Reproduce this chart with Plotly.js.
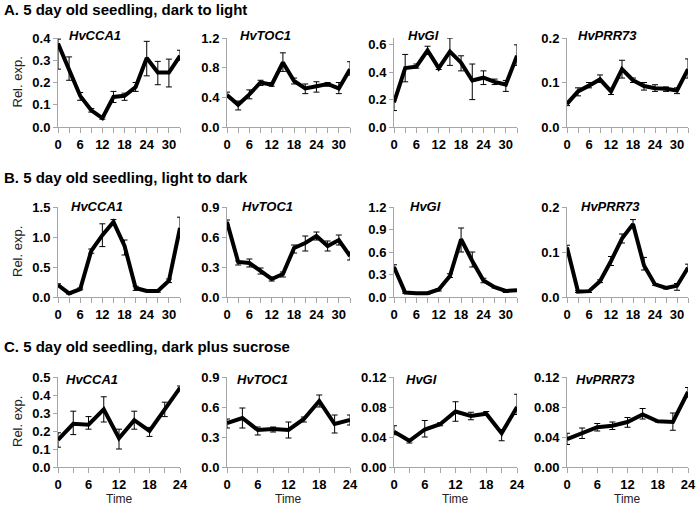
<!DOCTYPE html>
<html><head><meta charset="utf-8">
<script src="https://cdn.plot.ly/plotly-3.0.1.min.js"></script>
<style>html,body{margin:0;padding:0;background:#fff}#chart{width:696px;height:505px}</style>
</head><body><div id="chart"></div>
<script>
// Time points (h)
const timeAB = [0,3,6,9,12,15,18,21,24,27,30,33];
const timeC = [0,3,6,9,12,15,18,21,24];
const genes = ['HvCCA1','HvTOC1','HvGI','HvPRR73'];
const rowTitles = ['A. 5 day old seedling, dark to light','B. 5 day old seedling, light to dark','C. 5 day old seedling, dark plus sucrose'];

// Row A: dark to light
const A_CCA1 = [0.375,0.26,0.14,0.075,0.04,0.135,0.14,0.18,0.31,0.245,0.245,0.32];
const A_CCA1_up = [0.02,0.055,0.015,0.008,0.005,0.025,0.012,0.02,0.075,0.05,0.06,0.025];
const A_CCA1_dn = [0.115,0.05,0.02,0.008,0.005,0.025,0.02,0.02,0.08,0.055,0.065,0.02];
const A_TOC1 = [0.43,0.3,0.44,0.6,0.57,0.87,0.62,0.52,0.55,0.58,0.52,0.78];
const A_TOC1_up = [0.04,0.05,0.06,0.03,0.03,0.13,0.04,0.06,0.06,0.02,0.08,0.1];
const A_TOC1_dn = [0.03,0.07,0.06,0.04,0.02,0.12,0.04,0.07,0.08,0.03,0.07,0.08];
const A_GI = [0.18,0.43,0.44,0.56,0.43,0.55,0.47,0.34,0.36,0.33,0.31,0.52];
const A_GI_up = [0.04,0.1,0.02,0.03,0.01,0.1,0.05,0.12,0.05,0.02,0.03,0.08];
const A_GI_dn = [0.06,0.1,0.01,0.03,0.01,0.1,0.06,0.14,0.05,0.02,0.05,0.07];
const A_PRR73 = [0.052,0.08,0.093,0.107,0.08,0.13,0.105,0.092,0.087,0.086,0.082,0.13];
const A_PRR73_up = [0.006,0.008,0.007,0.01,0.007,0.02,0.005,0.008,0.008,0.004,0.006,0.023];
const A_PRR73_dn = [0.004,0.01,0.005,0.007,0.007,0.02,0.005,0.009,0.007,0.006,0.007,0.02];

// Row B: light to dark
const B_CCA1 = [0.2,0.06,0.13,0.77,1.03,1.25,0.85,0.15,0.1,0.1,0.27,1.15];
const B_CCA1_up = [0.02,0.01,0.02,0.03,0.19,0.04,0.1,0.03,0.01,0.02,0.03,0.18];
const B_CCA1_dn = [0.02,0.01,0.01,0.04,0.19,0.04,0.15,0.04,0.01,0.02,0.03,0.1];
const B_TOC1 = [0.75,0.35,0.34,0.26,0.18,0.23,0.49,0.54,0.61,0.51,0.57,0.41];
const B_TOC1_up = [0.02,0.01,0.04,0.03,0.02,0.02,0.03,0.07,0.04,0.05,0.05,0.04];
const B_TOC1_dn = [0.03,0.03,0.04,0.03,0.02,0.03,0.05,0.08,0.04,0.05,0.05,0.04];
const B_GI = [0.4,0.06,0.05,0.05,0.1,0.28,0.77,0.48,0.22,0.13,0.08,0.09];
const B_GI_up = [0.03,0.01,0.01,0.01,0.01,0.03,0.15,0.12,0.03,0.01,0.01,0.01];
const B_GI_dn = [0.03,0.01,0.01,0.01,0.02,0.02,0.17,0.08,0.03,0.01,0.02,0.01];
const B_PRR73 = [0.11,0.012,0.013,0.035,0.08,0.13,0.162,0.07,0.028,0.02,0.025,0.065];
const B_PRR73_up = [0.005,0.002,0.002,0.003,0.01,0.01,0.01,0.018,0.002,0.002,0.005,0.008];
const B_PRR73_dn = [0.01,0.002,0.003,0.003,0.01,0.01,0.007,0.01,0.002,0.002,0.01,0.005];

// Row C: dark plus sucrose
const C_CCA1 = [0.15,0.24,0.235,0.32,0.16,0.26,0.2,0.32,0.44];
const C_CCA1_up = [0.04,0.07,0.045,0.07,0.05,0.05,0.02,0.04,0.01];
const C_CCA1_dn = [0.04,0.06,0.025,0.07,0.06,0.05,0.03,0.04,0.01];
const C_TOC1 = [0.44,0.49,0.37,0.38,0.37,0.48,0.66,0.43,0.47];
const C_TOC1_up = [0.04,0.1,0.03,0.02,0.08,0.02,0.06,0.09,0.05];
const C_TOC1_dn = [0.05,0.1,0.05,0.03,0.08,0.03,0.06,0.09,0.05];
const C_GI = [0.047,0.035,0.05,0.057,0.074,0.068,0.071,0.045,0.08];
const C_GI_up = [0.008,0.002,0.012,0.002,0.013,0.005,0.003,0.005,0.017];
const C_GI_dn = [0.004,0.003,0.01,0.002,0.013,0.005,0.002,0.01,0.01];
const C_PRR73 = [0.037,0.045,0.053,0.055,0.06,0.07,0.061,0.06,0.1];
const C_PRR73_up = [0.008,0.007,0.005,0.005,0.006,0.008,0.001,0.012,0.006];
const C_PRR73_dn = [0.007,0.007,0.005,0.005,0.007,0.006,0.001,0.011,0.007];

// Axis settings per panel
const yRanges = [[0.4,1.2,0.65,0.2],[1.5,0.9,1.2,0.2],[0.5,0.9,0.12,0.12]];
const yDticks = [[0.1,0.4,0.2,0.1],[0.5,0.3,0.3,0.1],[0.1,0.3,0.04,0.04]];
const yFormats = [['.1f','.1f','.1f','.1f'],['.1f','.1f','.1f','.1f'],['.1f','.1f','.2f','.2f']];

const rows = [
  {t: timeAB, s: [[A_CCA1,A_CCA1_up,A_CCA1_dn],[A_TOC1,A_TOC1_up,A_TOC1_dn],[A_GI,A_GI_up,A_GI_dn],[A_PRR73,A_PRR73_up,A_PRR73_dn]]},
  {t: timeAB, s: [[B_CCA1,B_CCA1_up,B_CCA1_dn],[B_TOC1,B_TOC1_up,B_TOC1_dn],[B_GI,B_GI_up,B_GI_dn],[B_PRR73,B_PRR73_up,B_PRR73_dn]]},
  {t: timeC, s: [[C_CCA1,C_CCA1_up,C_CCA1_dn],[C_TOC1,C_TOC1_up,C_TOC1_dn],[C_GI,C_GI_up,C_GI_dn],[C_PRR73,C_PRR73_up,C_PRR73_dn]]}
];

const W = 696, H = 505;
const colPx = [[58,180],[227,350],[394,517],[567,688]];
const rowPx = [[38,127],[207,297],[377,467]];
const labelX = [[95,265,423,607],[97,267,426,610],[92,262,421,605]];
const labelY = [36,207,379];
const titleY = [9,177,346];

const AX = '#a6a6a6';
const tickFont = {family:'Liberation Sans, Arial, sans-serif', size:13, color:'#000', weight:'bold'};

const data = [];
const layout = {
  width: W, height: H, margin:{l:0,r:0,t:0,b:0},
  paper_bgcolor:'#fff', plot_bgcolor:'#fff', showlegend:false,
  annotations: []
};

let k = 0;
rows.forEach((row, r) => {
  row.s.forEach((ser, c) => {
    k++;
    const xa = 'xaxis' + (k===1?'':k), ya = 'yaxis' + (k===1?'':k);
    data.push({
      type:'scatter', mode:'lines', x: row.t, y: ser[0],
      xaxis:'x'+(k===1?'':k), yaxis:'y'+(k===1?'':k),
      line:{color:'#000', width:4, shape:'linear'},
      error_y:{type:'data', symmetric:false, array: ser[1], arrayminus: ser[2], color:'#000', thickness:1, width:3},
      hoverinfo:'skip'
    });
    const xmax = row.t[row.t.length-1];
    layout[xa] = {
      domain:[colPx[c][0]/W, colPx[c][1]/W], anchor:'y'+(k===1?'':k),
      range:[0, xmax], tickmode:'linear', tick0:0, dtick:6,
      showgrid:false, zeroline:false, showline:true, linecolor:AX, linewidth:1,
      ticks:'outside', ticklen:5, tickcolor:AX, tickwidth:1,
      minor:{tickmode:'linear', tick0:0, dtick:3, ticks:'outside', ticklen:5, tickcolor:AX, tickwidth:1, showgrid:false},
      tickfont: tickFont, ticklabeloverflow:'allow', fixedrange:true
    };
    layout[ya] = {
      domain:[1-rowPx[r][1]/H, 1-rowPx[r][0]/H], anchor:'x'+(k===1?'':k),
      range:[0, yRanges[r][c]], tickmode:'linear', tick0:0, dtick:yDticks[r][c], tickformat: yFormats[r][c],
      showgrid:false, zeroline:false, showline:true, linecolor:AX, linewidth:1,
      ticks:'outside', ticklen:4, tickcolor:AX, tickwidth:1,
      tickfont: tickFont, fixedrange:true
    };
    layout.annotations.push({
      xref:'paper', yref:'paper', x: labelX[r][c]/W, y: 1-labelY[r]/H,
      xanchor:'center', yanchor:'middle', showarrow:false,
      text: '<b><i>' + genes[c] + '</i></b>',
      font:{family:'Liberation Sans, Arial, sans-serif', size:13, color:'#000'}
    });
    if (r === 2) {
      layout.annotations.push({
        xref:'paper', yref:'paper', x: (colPx[c][0]+colPx[c][1])/2/W, y: 1-499/H,
        xanchor:'center', yanchor:'middle', showarrow:false, text:'Time', borderpad:0,
        font:{family:'Liberation Sans, Arial, sans-serif', size:12, color:'#222'}
      });
    }
  });
  layout.annotations.push({
    xref:'paper', yref:'paper', x: 2/W, y: 1-titleY[r]/H, xanchor:'left', yanchor:'middle',
    showarrow:false, text:'<b>' + rowTitles[r] + '</b>',
    font:{family:'Liberation Sans, Arial, sans-serif', size:15, color:'#000'}
  });
  layout.annotations.push({
    xref:'paper', yref:'paper', x: 17/W, y: 1-((rowPx[r][0]+rowPx[r][1])/2)/H, xanchor:'center', yanchor:'middle',
    showarrow:false, textangle:-90, text:'Rel. exp.',
    font:{family:'Liberation Sans, Arial, sans-serif', size:13, color:'#222'}
  });
});

Plotly.newPlot('chart', data, layout, {staticPlot:true, displayModeBar:false});
</script></body></html>
